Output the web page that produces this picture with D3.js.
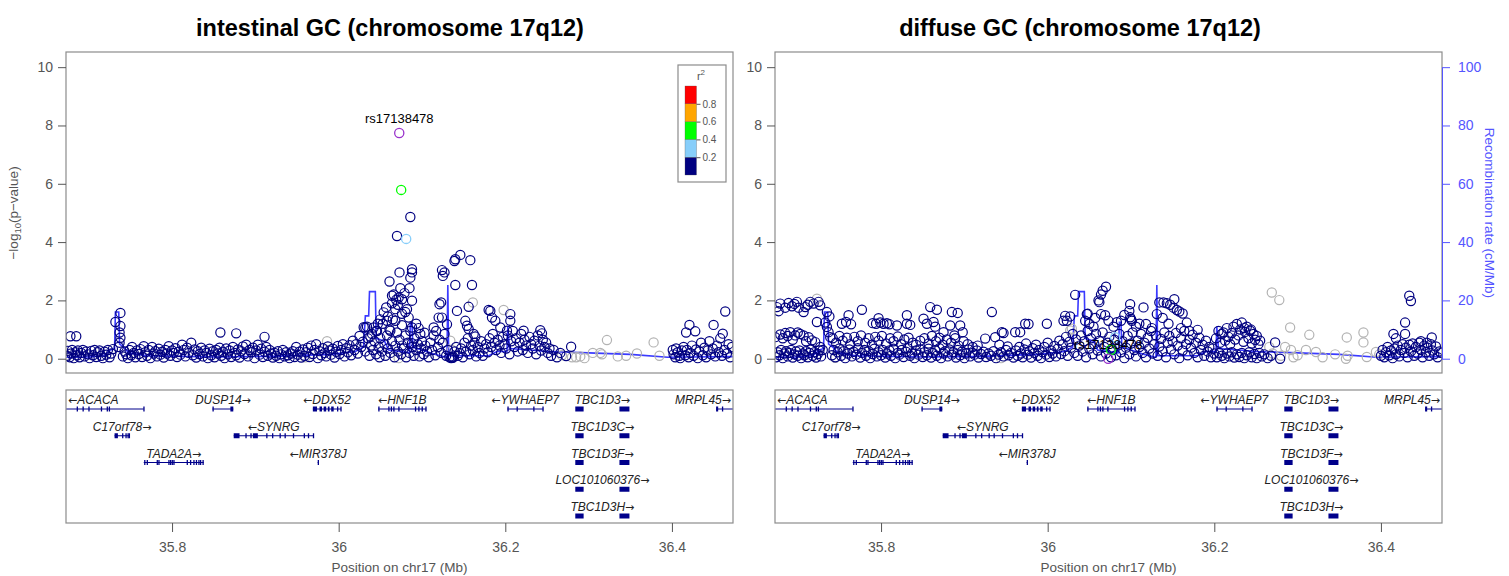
<!DOCTYPE html>
<html>
<head>
<meta charset="utf-8">
<script src="https://cdn.jsdelivr.net/npm/d3@7"></script>
<style>
  body { margin: 0; background: #fff; }
  svg { display: block; font-family: 'Liberation Sans', Arial, sans-serif; }
</style>
</head>
<body>
<svg id="mainsvg" width="1509" height="576"></svg>
<script>
// ---------------- data ----------------
const titles = ['intestinal GC (chromosome 17q12)', 'diffuse GC (chromosome 17q12)'];
const leadSnp = 'rs17138478';
const xTicks = [35.8, 36, 36.2, 36.4];
const yTicks = [0, 2, 4, 6, 8, 10];
const recTicks = [0, 20, 40, 60, 80, 100];
const ldBreaks = [0.2, 0.4, 0.6, 0.8];
const ldColors = ['#000080', '#87CEFA', '#00FF00', '#FFA500', '#FF0000'];

// [position Mb, -log10 p]
const intestinalNavy = [
  [35.674,0.10],[35.675,0.27],[35.677,0.05],[35.679,0.18],[35.680,0.30],[35.682,0.02],[35.684,0.22],[35.686,0.12],[35.687,0.28],[35.689,0.05],
  [35.691,0.20],[35.693,0.30],[35.695,0.08],[35.697,0.25],[35.699,0.15],[35.701,0.02],[35.703,0.27],[35.705,0.12],[35.707,0.30],[35.709,0.06],
  [35.711,0.22],[35.713,0.28],[35.715,0.10],[35.717,0.02],[35.719,0.24],[35.721,0.14],[35.723,0.30],[35.725,0.05],[35.727,0.18],[35.729,0.33],
  [35.678,0.77],[35.685,0.77],
  [35.732,1.26],[35.738,1.57],[35.738,1.12],[35.737,0.90],[35.738,0.72],[35.737,0.55],[35.736,0.40],
  [35.741,0.08],[35.743,0.25],[35.745,0.15],[35.747,0.02],[35.749,0.30],[35.751,0.12],[35.752,0.40],[35.754,0.20],[35.756,0.05],[35.758,0.28],
  [35.760,0.16],[35.762,0.33],[35.764,0.06],[35.766,0.43],[35.768,0.22],[35.770,0.10],[35.772,0.30],[35.774,0.02],[35.776,0.40],[35.778,0.18],
  [35.780,0.26],[35.782,0.08],[35.784,0.34],[35.786,0.14],[35.788,0.24],[35.790,0.04],[35.792,0.30],[35.794,0.18],[35.796,0.43],[35.798,0.10],
  [35.800,0.28],[35.802,0.20],[35.804,0.36],[35.806,0.06],[35.808,0.24],[35.810,0.14],[35.812,0.48],[35.814,0.30],[35.816,0.08],[35.818,0.38],
  [35.820,0.20],[35.823,0.55],[35.825,0.12],[35.827,0.32],[35.829,0.04],[35.831,0.26],[35.833,0.16],[35.835,0.38],[35.837,0.08],[35.839,0.28],
  [35.841,0.20],[35.843,0.02],[35.845,0.34],[35.847,0.12],[35.849,0.26],
  [35.851,0.05],[35.853,0.30],[35.855,0.18],[35.857,0.38],[35.859,0.10],[35.861,0.24],[35.863,0.02],[35.865,0.35],[35.867,0.15],[35.869,0.28],
  [35.871,0.06],[35.873,0.40],[35.875,0.20],[35.877,0.12],[35.879,0.32],[35.881,0.04],[35.883,0.26],[35.885,0.42],[35.887,0.16],[35.889,0.48],
  [35.891,0.08],[35.893,0.30],[35.895,0.22],[35.897,0.38],[35.899,0.02],[35.901,0.28],[35.903,0.48],[35.905,0.14],[35.907,0.34],[35.909,0.06],
  [35.911,0.24],[35.913,0.40],[35.915,0.10],[35.917,0.30],[35.919,0.18],
  [35.858,0.90],[35.877,0.87],[35.911,0.75],
  [35.921,0.04],[35.923,0.20],[35.925,0.10],[35.927,0.26],[35.929,0.02],[35.931,0.15],[35.933,0.30],[35.935,0.08],[35.937,0.22],[35.939,0.12],
  [35.941,0.02],[35.943,0.18],[35.945,0.26],[35.947,0.06],[35.949,0.40],[35.951,0.14],[35.953,0.24],[35.955,0.04],[35.957,0.32],[35.959,0.10],
  [35.961,0.22],[35.963,0.38],[35.965,0.06],[35.967,0.45],[35.969,0.16],[35.971,0.30],[35.973,0.50],[35.975,0.02],[35.977,0.26],[35.979,0.12],
  [35.981,0.36],[35.983,0.20],[35.985,0.08],[35.987,0.42],[35.989,0.28],[35.991,0.14],[35.993,0.34],[35.995,0.04],[35.997,0.24],[35.999,0.44],
  [36.001,0.16],[36.003,0.30],[36.005,0.50],[36.007,0.08],[36.009,0.36],[36.011,0.22],[36.013,0.46],[36.015,0.12],[36.017,0.62],[36.019,0.30],
  [36.021,0.50],[36.023,0.18],[36.025,0.78],[36.027,0.40],[36.029,0.58],[36.030,1.08],[36.032,0.25],[36.034,1.10],[36.035,0.70],
  [36.037,0.10],[36.039,0.45],[36.040,0.85],[36.041,0.30],[36.043,0.60],[36.045,0.15],[36.046,0.95],[36.048,0.40],[36.049,0.05],[36.050,0.70],
  [36.052,0.25],[36.053,1.20],[36.055,0.50],[36.056,0.10],[36.058,0.80],[36.059,0.35],[36.061,1.00],[36.062,0.20],[36.064,0.60],[36.065,1.35],
  [36.067,0.05],[36.068,0.45],[36.070,0.90],[36.071,0.25],[36.073,0.65],[36.075,0.15],[36.076,1.15],[36.078,0.35],[36.080,0.80],[36.081,0.05],
  [36.083,0.55],[36.085,0.20],[36.086,0.95],[36.088,0.40],[36.090,0.10],[36.091,0.70],[36.093,0.30],[36.095,0.50],[36.097,0.08],[36.099,0.35],
  [36.100,0.60],[36.102,0.15],[36.104,0.45],[36.106,0.25],[36.108,0.05],[36.110,0.55],[36.112,0.30],[36.114,0.80],[36.116,0.12],[36.117,0.95],
  [36.119,0.40],[36.121,0.65],[36.123,0.20],[36.125,0.55],[36.127,0.85],[36.129,0.10],[36.131,0.30],[36.133,0.05],[36.135,0.02],[36.137,0.03],
  [36.139,0.25],[36.141,0.40],[36.143,0.10],[36.145,0.20],[36.147,0.35],[36.149,0.05],[36.151,0.55],[36.153,0.25],[36.155,0.70],[36.157,0.15],
  [36.159,0.45],[36.161,0.30],[36.163,0.55],[36.165,0.08],[36.167,0.40],[36.169,0.20],[36.171,0.60],[36.173,0.10],[36.175,0.35],[36.177,0.50],
  [36.179,0.22],[36.181,0.70],[36.183,0.40],[36.185,0.85],[36.187,0.55],[36.189,0.30],[36.191,0.65],[36.193,0.45],[36.195,0.20],[36.197,0.75],
  [36.199,0.50],
  [36.086,4.86],[36.070,4.21],[36.073,2.96],[36.088,3.07],[36.088,2.96],[36.086,2.78],[36.061,2.65],[36.074,2.42],[36.085,2.42],[36.064,2.16],
  [36.076,2.04],[36.069,2.02],[36.088,1.99],[36.082,1.70],[36.068,1.70],[36.057,1.76],[36.054,1.59],[36.076,1.54],[36.084,1.41],[36.058,1.30],
  [36.068,1.30],[36.032,1.07],[36.042,1.07],[36.038,0.76],[36.062,0.96],[36.088,1.07],[36.098,0.85],[36.103,0.89],[36.088,0.53],[36.076,0.45],
  [36.066,2.20],[36.072,2.10],[36.079,2.25],[36.071,1.85],[36.064,1.90],[36.080,1.60],[36.059,1.45],[36.047,1.20],[36.050,1.35],[36.045,0.95],
  [36.093,1.20],[36.096,1.05],
  [36.124,3.04],[36.127,2.96],[36.125,2.84],[36.140,3.41],[36.139,3.35],[36.146,3.56],[36.158,3.38],[36.140,2.53],[36.160,2.53],[36.121,1.87],
  [36.123,1.93],[36.142,1.64],[36.156,1.78],[36.120,1.41],[36.124,1.41],[36.114,1.07],[36.130,1.18],[36.152,1.30],[36.154,1.13],[36.156,1.02],
  [36.162,0.85],[36.164,0.76],[36.136,0.05],[36.137,0.08],
  [36.182,1.64],[36.184,1.41],[36.188,1.30],[36.206,1.53],[36.206,1.30],[36.194,1.07],[36.202,0.96],[36.180,1.67],[36.222,0.96],[36.242,0.98],
  [36.244,0.87],
  [36.201,0.35],[36.203,0.80],[36.205,0.15],[36.207,0.60],[36.209,0.95],[36.211,0.40],[36.213,0.70],[36.215,0.25],[36.217,0.55],[36.219,0.85],
  [36.221,0.30],[36.223,0.65],[36.225,0.45],[36.227,0.20],[36.229,0.75],[36.231,0.50],[36.233,0.35],[36.235,0.62],[36.237,0.15],[36.239,0.80],
  [36.241,0.45],[36.243,0.28],[36.245,0.65],[36.247,0.40],[36.249,0.55],[36.251,0.20],[36.253,0.35],[36.255,0.10],[36.258,0.30],[36.262,0.05],
  [36.266,0.20],[36.273,0.09],[36.279,0.41],
  [36.401,0.30],[36.402,0.15],[36.404,0.05],[36.405,0.35],[36.407,0.22],[36.409,0.10],[36.410,0.02],[36.412,0.28],[36.414,0.40],[36.416,0.12],
  [36.417,0.90],[36.418,0.30],[36.420,0.05],[36.421,1.16],[36.422,0.20],[36.424,0.45],[36.426,0.10],[36.428,0.94],[36.429,0.32],[36.431,0.02],
  [36.433,0.25],[36.435,0.55],[36.437,0.12],[36.439,0.38],[36.441,0.05],[36.443,0.28],[36.445,0.60],[36.447,0.15],[36.449,0.35],[36.450,1.16],
  [36.452,0.08],[36.454,0.45],[36.456,0.22],[36.458,0.70],[36.460,0.10],[36.461,0.86],[36.463,0.30],[36.464,1.62],[36.466,0.18],[36.468,0.50],
  [36.470,0.05],[36.472,0.40]
];
const intestinalGray = [
  [35.960,0.05],[35.986,0.60],[36.072,0.02],[36.134,0.62],[36.136,0.30],[36.161,1.93],[36.198,1.67],[36.268,0.12],[36.280,0.05],[36.285,0.05],
  [36.290,0.08],[36.295,0.02],[36.305,0.20],[36.314,0.20],[36.316,0.15],[36.322,0.64],[36.335,0.08],[36.345,0.10],[36.358,0.18],[36.378,0.56],
  [36.385,0.10]
];
// [position Mb, -log10 p, r2] ; r2 of 1 marks the lead SNP
const intestinalLd = [[36.081,4.11,0.3],[36.075,5.79,0.5],[36.0727,7.74,1]];

const diffuseNavy = [
  [35.674,0.05],[35.676,0.22],[35.678,0.12],[35.680,0.30],[35.682,0.02],[35.684,0.18],[35.686,0.26],[35.688,0.08],[35.690,0.20],[35.692,0.30],
  [35.694,0.04],[35.696,0.15],[35.698,0.25],[35.700,0.10],[35.702,0.28],[35.704,0.02],[35.706,0.18],[35.708,0.12],[35.710,0.26],[35.712,0.05],
  [35.714,0.20],[35.716,0.32],[35.718,0.10],[35.720,0.22],[35.722,0.04],[35.724,0.16],[35.726,0.28],[35.728,0.08],[35.730,0.30],
  [35.675,1.77],[35.677,1.63],[35.679,1.89],[35.685,1.75],[35.689,1.91],[35.693,1.80],[35.699,1.95],[35.701,1.75],[35.707,1.60],[35.709,1.77],
  [35.715,1.95],[35.719,1.89],[35.725,1.95],[35.727,1.83],[35.723,1.26],[35.712,1.85],[35.696,1.88],
  [35.673,0.74],[35.679,0.83],[35.685,0.88],[35.691,0.91],[35.697,0.80],[35.703,0.85],[35.707,0.80],[35.713,0.74],[35.717,0.63],[35.721,0.57],
  [35.727,0.40],[35.735,1.09],[35.737,0.91],[35.739,0.74],[35.682,0.70],[35.694,0.65],[35.700,0.90],[35.710,0.60],[35.688,0.78],
  [35.735,1.60],[35.733,1.24],[35.738,1.45],
  [35.761,1.49],[35.777,1.68],[35.797,1.39],[35.831,1.49],[35.851,1.37],[35.859,1.77],[35.867,1.68],[35.885,1.60],[35.892,1.57],[35.933,1.60],
  [35.753,1.20],[35.758,1.26],[35.764,1.18],[35.790,1.22],[35.794,1.20],[35.799,1.24],[35.803,1.20],[35.807,1.22],[35.810,1.18],[35.819,1.14],
  [35.831,1.20],[35.835,1.16],[35.855,1.20],[35.863,1.26],[35.865,1.10],[35.883,1.14],[35.895,1.14],[35.875,0.91],[35.888,0.80],[35.898,0.91],
  [35.945,0.91],[35.961,0.91],
  [35.742,0.70],[35.746,0.55],[35.750,0.78],[35.754,0.62],[35.759,0.72],[35.763,0.50],[35.768,0.75],[35.772,0.60],[35.776,0.80],[35.781,0.55],
  [35.785,0.70],[35.789,0.48],[35.793,0.75],[35.797,0.62],[35.801,0.78],[35.806,0.52],[35.811,0.70],[35.815,0.60],[35.820,0.76],[35.824,0.50],
  [35.828,0.66],[35.833,0.72],[35.838,0.55],[35.842,0.48],[35.847,0.62],[35.852,0.70],[35.857,0.52],[35.861,0.78],[35.866,0.60],[35.870,0.72],
  [35.874,0.48],[35.879,0.66],[35.884,0.55],[35.889,0.70],[35.893,0.45],[35.899,0.60],[35.904,0.50],[35.910,0.40],[35.916,0.45],[35.925,0.69],
  [35.937,0.74],[35.942,0.48],[35.952,0.42],
  [35.741,0.12],[35.743,0.30],[35.745,0.05],[35.748,0.22],[35.750,0.35],[35.752,0.10],[35.755,0.26],[35.757,0.02],[35.760,0.18],[35.762,0.32],
  [35.765,0.08],[35.767,0.24],[35.770,0.14],[35.772,0.36],[35.775,0.04],[35.777,0.20],[35.780,0.30],[35.782,0.10],[35.785,0.26],[35.787,0.02],
  [35.790,0.16],[35.792,0.34],[35.795,0.08],[35.797,0.22],[35.800,0.12],[35.802,0.30],[35.805,0.04],[35.807,0.18],[35.810,0.28],[35.812,0.10],
  [35.815,0.34],[35.817,0.02],[35.820,0.20],[35.822,0.14],[35.825,0.30],[35.827,0.06],[35.830,0.24],[35.832,0.36],[35.835,0.10],[35.837,0.18],
  [35.840,0.02],[35.842,0.28],[35.845,0.14],[35.847,0.32],[35.850,0.06],[35.852,0.22],[35.855,0.12],[35.857,0.34],[35.860,0.04],[35.862,0.20],
  [35.865,0.28],[35.867,0.10],[35.870,0.36],[35.872,0.02],[35.875,0.18],[35.877,0.26],[35.880,0.08],[35.882,0.32],[35.885,0.14],[35.887,0.22],
  [35.890,0.04],[35.892,0.30],[35.895,0.12],[35.897,0.24],[35.900,0.02],[35.902,0.18],[35.905,0.32],[35.907,0.08],[35.910,0.20],[35.912,0.14],
  [35.915,0.28],[35.917,0.04],[35.920,0.16],[35.923,0.24],[35.926,0.06],[35.929,0.18],[35.932,0.10],[35.935,0.26],[35.938,0.02],[35.941,0.14],
  [35.944,0.22],[35.947,0.08],[35.950,0.30],[35.953,0.12],[35.956,0.20],[35.959,0.04],
  [35.967,0.91],[35.973,1.20],[35.999,1.20],[35.977,1.19],[35.947,0.88],[36.021,1.47],[36.019,1.30],[36.023,1.30],[36.027,1.45],[36.033,2.19],
  [35.962,0.28],[35.964,0.10],[35.966,0.40],[35.968,0.18],[35.970,0.05],[35.972,0.32],[35.974,0.52],[35.976,0.14],[35.978,0.26],[35.980,0.04],
  [35.982,0.36],[35.984,0.20],[35.986,0.48],[35.988,0.10],[35.990,0.30],[35.992,0.02],[35.994,0.22],[35.996,0.40],[35.998,0.14],[36.000,0.55],
  [36.002,0.06],[36.004,0.28],[36.006,0.18],[36.008,0.44],[36.010,0.08],[36.012,0.34],[36.014,0.62],[36.016,0.16],[36.018,0.50],[36.020,0.26],
  [36.022,0.75],[36.024,0.10],[36.026,0.58],[36.028,0.38],[36.030,0.85],[36.032,0.20],[36.034,0.66],
  [36.070,2.47],[36.066,2.33],[36.064,2.20],[36.062,1.94],[36.061,2.00],[36.069,1.49],[36.048,1.54],[36.047,1.53],[36.045,1.30],[36.064,1.53],
  [36.073,1.30],[36.115,1.76],[36.099,1.87],[36.098,1.64],[36.092,1.50],[36.088,1.30],[36.100,1.36],[36.118,1.19],[36.131,1.53],[36.134,1.93],
  [36.139,1.93],[36.143,1.90],[36.147,1.85],[36.152,2.04],[36.155,1.67],[36.151,1.75],[36.158,1.62],[36.162,1.55],[36.167,1.24],[36.180,0.99],
  [36.099,1.42],[36.101,1.30],[36.050,1.20],[36.055,1.10],[36.057,1.40],[36.079,1.10],[36.083,1.25],[36.106,1.10],[36.110,1.20],[36.125,1.05],
  [36.138,1.40],[36.145,1.20],[36.160,1.05],[36.170,0.95],
  [36.036,0.10],[36.038,0.45],[36.040,0.80],[36.042,0.25],[36.044,0.60],[36.046,0.05],[36.048,0.95],[36.050,0.35],[36.052,0.70],[36.054,0.15],
  [36.056,0.50],[36.058,0.85],[36.060,0.28],[36.062,0.62],[36.064,0.08],[36.066,0.90],[36.068,0.40],[36.070,0.18],[36.072,0.55],[36.074,0.75],
  [36.076,0.05],[36.078,0.30],[36.080,0.65],[36.082,0.12],[36.084,0.45],[36.086,0.85],[36.088,0.22],[36.090,0.60],[36.092,0.02],[36.094,0.38],
  [36.096,0.78],[36.098,0.15],[36.100,0.52],[36.102,0.90],[36.104,0.30],[36.106,0.08],[36.108,0.62],[36.110,0.40],[36.112,0.85],[36.114,0.20],
  [36.116,0.55],[36.118,0.05],[36.120,0.72],[36.122,0.35],[36.124,0.95],[36.126,0.18],[36.128,0.50],[36.130,0.80],[36.132,0.10],[36.134,0.42],
  [36.136,0.68],[36.138,0.25],[36.140,0.90],[36.142,0.05],[36.144,0.55],[36.146,0.78],[36.148,0.32],[36.150,0.60],[36.152,0.15],[36.154,0.88],
  [36.156,0.45],[36.158,0.02],[36.160,0.70],[36.162,0.28],[36.164,0.95],[36.166,0.50],[36.168,0.12],[36.170,0.65],[36.172,0.38],[36.174,0.82],
  [36.176,0.20],[36.178,0.55],[36.180,0.05],[36.182,0.72],[36.184,0.30],[36.186,0.48],[36.188,0.10],[36.190,0.62],[36.192,0.25],[36.194,0.40],
  [36.196,0.05],[36.198,0.35],[36.200,0.18],
  [36.202,0.70],[36.205,0.95],[36.207,0.55],[36.209,0.85],[36.211,0.90],[36.213,0.62],[36.215,1.05],[36.217,0.75],[36.219,0.50],[36.221,0.88],
  [36.223,1.10],[36.225,0.66],[36.227,1.19],[36.229,0.80],[36.231,1.00],[36.233,1.24],[36.235,0.58],[36.237,0.92],[36.239,1.10],[36.241,0.70],
  [36.243,0.96],[36.245,0.52],[36.247,0.85],[36.249,0.65],[36.251,0.78],[36.253,0.50],[36.255,0.62],[36.244,1.00],[36.236,1.05],
  [36.203,0.05],[36.206,0.20],[36.209,0.10],[36.212,0.02],[36.215,0.18],[36.218,0.08],[36.221,0.22],[36.224,0.04],[36.227,0.15],[36.230,0.06],
  [36.233,0.20],[36.236,0.02],[36.239,0.12],[36.242,0.22],[36.245,0.05],[36.248,0.16],[36.251,0.02],[36.254,0.20],[36.257,0.08],[36.260,0.15],
  [36.264,0.02],[36.268,0.10],[36.279,0.00],[36.273,0.56],
  [36.434,2.16],[36.436,1.98],[36.429,1.24],[36.415,0.85],[36.418,0.70],[36.429,0.85],[36.461,0.73],[36.455,0.55],[36.448,0.60],
  [36.400,0.10],[36.402,0.30],[36.404,0.05],[36.406,0.22],[36.408,0.40],[36.410,0.12],[36.412,0.28],[36.414,0.02],[36.416,0.35],[36.418,0.15],
  [36.420,0.45],[36.422,0.08],[36.424,0.30],[36.426,0.50],[36.428,0.20],[36.430,0.38],[36.432,0.05],[36.434,0.48],[36.436,0.25],[36.438,0.52],
  [36.440,0.10],[36.442,0.40],[36.444,0.18],[36.446,0.55],[36.448,0.30],[36.450,0.05],[36.452,0.45],[36.454,0.22],[36.456,0.38],[36.458,0.10],
  [36.460,0.50],[36.462,0.28],[36.464,0.15],[36.466,0.42],[36.468,0.05],[36.470,0.25],[36.472,0.20]
];
const diffuseGray = [
  [35.723,2.06],[35.745,0.03],[35.944,0.02],[36.027,0.97],[36.029,1.03],[36.266,0.40],[36.269,2.27],[36.270,0.18],[36.278,2.01],[36.280,0.10],
  [36.285,0.40],[36.291,1.07],[36.292,0.30],[36.295,0.05],[36.300,0.12],[36.310,0.30],[36.314,0.82],[36.322,0.23],[36.330,0.05],[36.345,0.15],
  [36.358,0.00],[36.359,0.73],[36.360,0.10],[36.379,0.90],[36.379,0.56],[36.383,0.06],[36.394,0.23],[36.398,0.15]
];
const diffuseLd = [[36.081,0.74,0.3],[36.076,0.31,0.5],[36.0727,0.00,1]];

// recombination rate, [position Mb, cM/Mb]
const recombination = [
  [35.673,0.5],[35.700,0.6],[35.718,1.0],[35.726,3.0],[35.731,3.5],[35.732,16.0],[35.736,16.0],[35.737,5.0],[35.742,4.0],[35.748,2.0],
  [35.770,1.0],[35.850,0.6],[35.920,0.8],[35.990,1.5],[36.020,2.5],[36.030,4.0],[36.032,14.7],[36.036,14.7],[36.037,23.0],[36.044,23.0],
  [36.045,7.0],[36.055,6.0],[36.060,3.0],[36.085,2.0],[36.086,12.5],[36.088,12.5],[36.089,4.0],[36.100,3.0],[36.115,1.5],[36.129,0.5],
  [36.130,0.5],[36.131,25.3],[36.132,1.0],[36.150,1.0],[36.180,1.0],[36.190,2.5],[36.202,2.5],[36.203,11.0],[36.205,3.5],[36.230,3.0],
  [36.250,2.5],[36.300,2.0],[36.350,1.5],[36.395,0.5],[36.420,0.6],[36.473,0.7]
];

// genes: start/end in Mb, exons in Mb, track row
const genes = [
  { name: 'ACACA', start: 35.600, end: 35.766, strand: '-', row: 0, joined: true,
    exons: [[35.6855,35.6865],[35.6925,35.6935],[35.6995,35.7005],[35.7145,35.7155],[35.7215,35.7225],[35.7240,35.7255],[35.7655,35.7665]] },
  { name: 'DUSP14', start: 35.8485, end: 35.8735, strand: '+', row: 0, joined: true,
    exons: [[35.8485,35.8495],[35.8700,35.8735]] },
  { name: 'DDX52', start: 35.969, end: 36.003, strand: '-', row: 0, joined: true,
    exons: [[35.969,35.974],[35.977,35.980],[35.982,35.985],[35.987,35.989],[35.991,35.994],[35.998,35.999],[36.002,36.003]] },
  { name: 'HNF1B', start: 36.0475, end: 36.105, strand: '-', row: 0, joined: true,
    exons: [[36.0475,36.0485],[36.0595,36.0605],[36.0625,36.0635],[36.0655,36.0665],[36.0715,36.0725],[36.0915,36.0925],[36.0955,36.0965],[36.0995,36.1005],[36.104,36.105]] },
  { name: 'YWHAEP7', start: 36.2025, end: 36.2455, strand: '-', row: 0, joined: true,
    exons: [[36.2025,36.2035],[36.2135,36.2145],[36.2335,36.2345],[36.2445,36.2455]] },
  { name: 'TBC1D3', start: 36.284, end: 36.349, strand: '+', row: 0, joined: false,
    exons: [[36.284,36.294],[36.337,36.349]] },
  { name: 'MRPL45', start: 36.453, end: 36.490, strand: '+', row: 0, joined: true,
    exons: [[36.453,36.4555],[36.460,36.461]] },
  { name: 'C17orf78', start: 35.731, end: 35.749, strand: '+', row: 1, joined: true,
    exons: [[35.731,35.735],[35.740,35.741],[35.744,35.745],[35.7465,35.7475],[35.748,35.749]] },
  { name: 'SYNRG', start: 35.874, end: 35.970, strand: '-', row: 1, joined: true,
    exons: [[35.874,35.881],[35.888,35.889],[35.894,35.895],[35.897,35.903],[35.913,35.914],[35.920,35.921],[35.929,35.930],[35.935,35.936],[35.945,35.946],[35.958,35.959],[35.963,35.964],[35.969,35.970]] },
  { name: 'TBC1D3C', start: 36.284, end: 36.349, strand: '+', row: 1, joined: false,
    exons: [[36.284,36.294],[36.337,36.349]] },
  { name: 'TADA2A', start: 35.766, end: 35.838, strand: '+', row: 2, joined: true,
    exons: [[35.7665,35.7675],[35.7695,35.7705],[35.7815,35.7825],[35.7835,35.7845],[35.7955,35.7965],[35.7975,35.7985],[35.7995,35.8005],[35.8015,35.8025],
            [35.8175,35.8185],[35.8215,35.8225],[35.8255,35.8265],[35.8285,35.8295],[35.8315,35.8325],[35.8335,35.8345],[35.8365,35.8380]] },
  { name: 'MIR378J', start: 35.9748, end: 35.9758, strand: '-', row: 2, joined: true,
    exons: [[35.9748,35.9758]] },
  { name: 'TBC1D3F', start: 36.284, end: 36.349, strand: '+', row: 2, joined: false,
    exons: [[36.284,36.294],[36.337,36.349]] },
  { name: 'LOC101060376', start: 36.284, end: 36.349, strand: '+', row: 3, joined: false,
    exons: [[36.284,36.294],[36.337,36.349]] },
  { name: 'TBC1D3H', start: 36.284, end: 36.349, strand: '+', row: 4, joined: false,
    exons: [[36.284,36.294],[36.337,36.349]] }
];

// ---------------- layout ----------------
const svg = d3.select('#mainsvg');
const plotTop = 52, plotBottom = 373;
const geneTop = 390, geneBottom = 523;
const panelWidth = 667;
const xDomain = [35.6727, 36.4733];
const textGray = '#555555';
const boxGray = '#8c8c8c';
const recBlue = '#3b3bff';
const recAxisBlue = '#5555ff';
const fontStack = "'Liberation Sans', Arial, sans-serif";

const yScale = d3.scaleLinear().domain([-0.49, 10.52]).range([plotBottom, plotTop]);
const recScale = d3.scaleLinear().domain([0, 100]).range([yScale(0), yScale(10)]);
const ldColor = r => r >= 1 ? '#9932CC' : ldColors[Math.min(4, Math.floor(r / 0.2))];

const panels = [
  { title: titles[0], navy: intestinalNavy, gray: intestinalGray, ld: intestinalLd, left: 66, titleX: 390, legend: true, recAxis: false, yLabel: true },
  { title: titles[1], navy: diffuseNavy, gray: diffuseGray, ld: diffuseLd, left: 775, titleX: 1080, legend: false, recAxis: true, yLabel: false }
];

const defs = svg.append('defs');

const renderPanel = function(p, idx) {
  const left = p.left, right = left + panelWidth;
  const xScale = d3.scaleLinear().domain(xDomain).range([left, right]);
  const g = svg.append('g').attr('class', 'panel');

  defs.append('clipPath').attr('id', 'clipPlot' + idx)
    .append('rect').attr('x', left).attr('y', plotTop).attr('width', panelWidth).attr('height', plotBottom - plotTop);
  defs.append('clipPath').attr('id', 'clipGene' + idx)
    .append('rect').attr('x', left).attr('y', geneTop).attr('width', panelWidth).attr('height', geneBottom - geneTop);

  // title
  g.append('text').text(p.title)
    .attr('x', p.titleX).attr('y', 36)
    .attr('text-anchor', 'middle')
    .attr('font-size', '23.5px').attr('font-weight', 'bold').attr('fill', '#000');

  const plot = g.append('g').attr('clip-path', `url(#clipPlot${idx})`);

  // recombination rate line
  plot.append('path').datum(recombination)
    .attr('d', d3.line().x(d => xScale(d[0])).y(d => recScale(d[1])))
    .attr('fill', 'none').attr('stroke', recBlue).attr('stroke-width', 1.6);

  // SNPs
  plot.append('g').selectAll('circle').data(p.gray).join('circle')
    .attr('cx', d => xScale(d[0])).attr('cy', d => yScale(d[1])).attr('r', 4.6)
    .attr('fill', 'none').attr('stroke', '#b3b3b3').attr('stroke-width', 1.2);
  plot.append('g').selectAll('circle').data(p.navy).join('circle')
    .attr('cx', d => xScale(d[0])).attr('cy', d => yScale(d[1])).attr('r', 4.6)
    .attr('fill', 'none').attr('stroke', '#000080').attr('stroke-width', 1.2);
  plot.append('g').selectAll('circle').data(p.ld).join('circle')
    .attr('cx', d => xScale(d[0])).attr('cy', d => yScale(d[1])).attr('r', 4.6)
    .attr('fill', 'none').attr('stroke', d => ldColor(d[2])).attr('stroke-width', 1.3);

  // lead SNP label
  const lead = p.ld.find(d => d[2] >= 1);
  g.append('text').text(leadSnp)
    .attr('x', xScale(lead[0])).attr('y', yScale(lead[1]) - 10)
    .attr('text-anchor', 'middle').attr('font-size', '13px').attr('fill', '#000');

  // plot box
  g.append('rect').attr('x', left).attr('y', plotTop)
    .attr('width', panelWidth).attr('height', plotBottom - plotTop)
    .attr('fill', 'none').attr('stroke', boxGray).attr('stroke-width', 1.2);

  // left y axis
  const yAxisGroup = g.append('g').attr('transform', `translate(${left}, 0)`)
    .call(d3.axisLeft(yScale).tickValues(yTicks).tickSize(8).tickPadding(5));
  yAxisGroup.select('.domain').remove();
  yAxisGroup.selectAll('line').attr('stroke', textGray);
  yAxisGroup.selectAll('text').attr('font-size', '14px').attr('fill', textGray).attr('font-family', fontStack);

  if (p.yLabel) {
    const yl = g.append('text')
      .attr('transform', `translate(18, ${yScale(5)}) rotate(-90)`)
      .attr('text-anchor', 'middle').attr('font-size', '13.5px').attr('fill', textGray);
    yl.append('tspan').text('\u2212log');
    yl.append('tspan').text('10').attr('font-size', '9.5px').attr('dy', 3);
    yl.append('tspan').text('(p\u2212value)').attr('dy', -3);
  }

  // recombination axis
  if (p.recAxis) {
    const recAxisGroup = g.append('g').attr('transform', `translate(${right}, 0)`)
      .call(d3.axisRight(recScale).tickValues(recTicks).tickSize(8).tickSizeOuter(0).tickPadding(8));
    recAxisGroup.selectAll('line, path').attr('stroke', recAxisBlue);
    recAxisGroup.selectAll('text').attr('font-size', '14px').attr('fill', recAxisBlue).attr('font-family', fontStack);
    g.append('text').text('Recombination rate (cM/Mb)')
      .attr('transform', `translate(1485, ${yScale(5)}) rotate(90)`)
      .attr('text-anchor', 'middle').attr('font-size', '13.5px').attr('fill', recAxisBlue);
  }

  // r2 legend
  if (p.legend) {
    const lx = left + 612, ly = 65;
    const ldScale = d3.scaleLinear().domain([0, 1]).range([175, 86]);
    const lg = g.append('g');
    lg.append('rect').attr('x', lx).attr('y', ly).attr('width', 48).attr('height', 117)
      .attr('fill', '#fff').attr('stroke', boxGray).attr('stroke-width', 1.2);
    const lt = lg.append('text').attr('x', lx + 23).attr('y', ly + 15)
      .attr('text-anchor', 'middle').attr('font-size', '11px').attr('fill', textGray);
    lt.append('tspan').text('r');
    lt.append('tspan').text('2').attr('font-size', '8px').attr('dy', -5);
    const bins = d3.range(5).map(i => [i * 0.2, (i + 1) * 0.2]);
    lg.selectAll('rect.bin').data(bins).join('rect').attr('class', 'bin')
      .attr('x', lx + 7).attr('width', 11.5)
      .attr('y', d => ldScale(d[1])).attr('height', d => ldScale(d[0]) - ldScale(d[1]))
      .attr('fill', (d, i) => ldColors[i]).attr('stroke', '#555').attr('stroke-width', 0.3);
    const legAxis = lg.append('g').attr('transform', `translate(${lx + 18.5}, 0)`)
      .call(d3.axisRight(ldScale).tickValues(ldBreaks).tickSize(4).tickPadding(2).tickFormat(d3.format('.1f')));
    legAxis.select('.domain').remove();
    legAxis.selectAll('line').attr('stroke', textGray);
    legAxis.selectAll('text').attr('font-size', '10px').attr('fill', textGray).attr('font-family', fontStack);
  }

  // gene track
  const rowY = r => geneTop + 19 + r * 26.75;
  const gtrack = g.append('g');
  const gclip = gtrack.append('g').attr('clip-path', `url(#clipGene${idx})`);
  genes.forEach(gene => {
    const y0 = rowY(gene.row);
    if (gene.joined) {
      gclip.append('line')
        .attr('x1', xScale(gene.start)).attr('x2', xScale(gene.end))
        .attr('y1', y0).attr('y2', y0)
        .attr('stroke', '#00008B').attr('stroke-width', 1);
    }
    gclip.append('g').selectAll('rect').data(gene.exons).join('rect')
      .attr('x', d => xScale(d[0]))
      .attr('width', d => Math.max(1.3, xScale(d[1]) - xScale(d[0])))
      .attr('y', y0 - 2.5).attr('height', 5)
      .attr('fill', '#00008B');
    const t = gtrack.append('text')
      .attr('y', y0 - 5)
      .attr('text-anchor', 'middle')
      .attr('font-size', '12px').attr('fill', '#222');
    const arrow = (sel, ch) => sel.append('tspan').text(ch)
      .attr('font-family', "'DejaVu Sans', sans-serif").attr('font-style', 'normal').attr('font-size', '11px');
    if (gene.strand === '-') arrow(t, '\u2190');
    t.append('tspan').text(gene.name).attr('font-style', 'italic');
    if (gene.strand === '+') arrow(t, '\u2192');
    const w = t.node().getComputedTextLength();
    let cx = xScale((gene.start + gene.end) / 2);
    cx = Math.max(left + 2 + w / 2, Math.min(right - 2 - w / 2, cx));
    t.attr('x', cx);
  });
  gtrack.append('rect').attr('x', left).attr('y', geneTop)
    .attr('width', panelWidth).attr('height', geneBottom - geneTop)
    .attr('fill', 'none').attr('stroke', boxGray).attr('stroke-width', 1.2);

  // x axis
  const xAxisGroup = g.append('g').attr('transform', `translate(0, ${geneBottom})`)
    .call(d3.axisBottom(xScale).tickValues(xTicks).tickSize(9).tickPadding(10).tickFormat(d => String(d)));
  xAxisGroup.select('.domain').remove();
  xAxisGroup.selectAll('line').attr('stroke', textGray);
  xAxisGroup.selectAll('text').attr('font-size', '14px').attr('fill', textGray).attr('font-family', fontStack);
  g.append('text').text('Position on chr17 (Mb)')
    .attr('x', (left + right) / 2).attr('y', 572)
    .attr('text-anchor', 'middle').attr('font-size', '13.5px').attr('fill', textGray);
};

panels.forEach(renderPanel);
</script>
</body>
</html>
